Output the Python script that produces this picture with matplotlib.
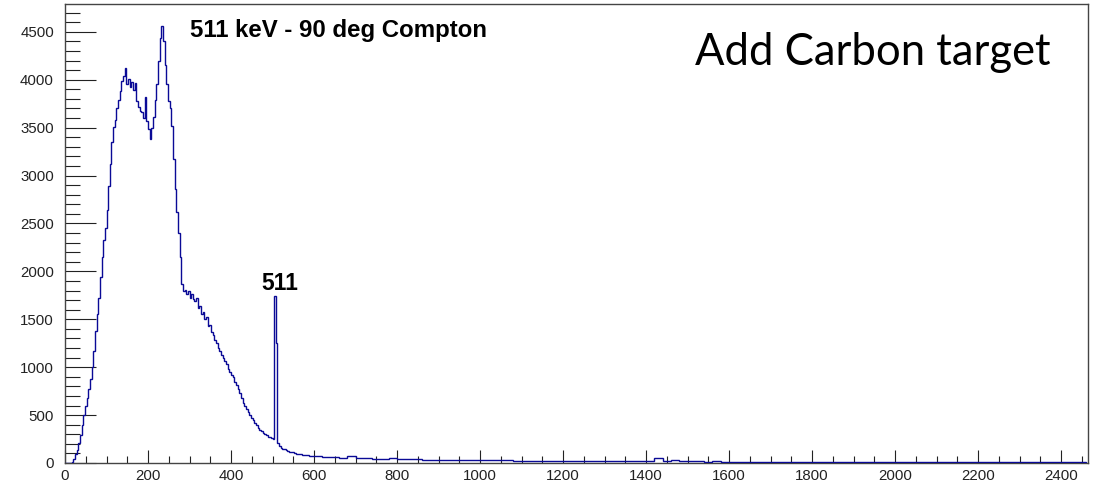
import numpy as np
import matplotlib
matplotlib.use("Agg")
import matplotlib.pyplot as plt
from matplotlib.ticker import MultipleLocator

# Energy spectrum (keV) of a 511 keV beam scattered at 90 degrees, carbon target
FINE_WIDTH = 4      # keV per bin below 600 keV
TAIL_WIDTH = 20     # keV per bin above 600 keV
FINE_END = 600
TAIL_END = 2460

counts_fine = [
    0, 0, 0, 2, 8, 40, 90, 140, 210, 290,
    400, 500, 600, 680, 770, 880, 1000, 1170, 1380, 1560,
    1720, 1940, 2150, 2330, 2450, 2640, 2890, 3120, 3350, 3510,
    3580, 3700, 3790, 3880, 3990, 4040, 4120, 3960, 4010, 3920,
    3980, 3890, 3970, 3780, 3720, 3670, 3660, 3600, 3820, 3570,
    3490, 3380, 3500, 3610, 3790, 3960, 4200, 4440, 4560, 4400,
    4150, 3960, 3780, 3700, 3520, 3170, 2860, 2620, 2400, 2150,
    1870, 1790, 1810, 1760, 1790, 1720, 1760, 1710, 1690, 1720,
    1620, 1640, 1560, 1580, 1500, 1520, 1430, 1440, 1370, 1340,
    1280, 1250, 1200, 1170, 1130, 1100, 1060, 1030, 980, 950,
    920, 900, 850, 810, 770, 730, 680, 630, 590, 560,
    530, 500, 470, 450, 420, 395, 370, 345, 330, 310,
    300, 290, 275, 270, 260, 250, 1740, 1250, 210, 175,
    160, 150, 145, 135, 130, 120, 112, 110, 100, 98,
    95, 92, 90, 85, 88, 80, 82, 78, 75, 74,
]

counts_tail = [
    72, 66, 61, 56, 74, 52, 49, 46, 45, 54, 41, 39, 38, 36, 35, 35, 33, 32, 31, 30,
    30, 28, 29, 27, 26, 26, 25, 24, 24, 23,
    22, 22, 21, 20, 21, 19, 19, 18, 18, 17,
    19, 50, 24, 34, 17, 16, 16, 15, 16, 15,
    15, 14, 15, 14, 14, 13, 14, 13, 13, 13,
    12, 13, 12, 12, 12, 11, 12, 11, 11, 11,
    11, 11, 10, 11, 10, 10, 10, 10, 10, 9,
    10, 9, 9, 9, 9, 9, 9, 8, 9, 8,
    8, 8, 8,
]

title_text = "511 keV - 90 deg Compton"
peak_label = "511"
note_text = "Add Carbon target"

x_range = (0, 2465)
y_range = (0, 4790)

edges = np.concatenate([
    np.arange(0, FINE_END + 1, FINE_WIDTH),
    np.arange(FINE_END + TAIL_WIDTH, TAIL_END + 1, TAIL_WIDTH),
])
values = np.array(counts_fine + counts_tail, dtype=float)

W, H = 1094, 483
plt.rcParams["font.family"] = ["Liberation Sans", "DejaVu Sans"]
fig = plt.figure(figsize=(W / 100, H / 100), dpi=100)
fig.patch.set_facecolor("white")
ax = fig.add_axes([65 / W, 20 / H, 1023 / W, 459 / H])

ax.stairs(values, edges, color="#0a0a96", linewidth=1.0, baseline=0, zorder=3)

ax.set_xlim(*x_range)
ax.set_ylim(*y_range)

ax.xaxis.set_major_locator(MultipleLocator(200))
ax.xaxis.set_minor_locator(MultipleLocator(50))
ax.yaxis.set_major_locator(MultipleLocator(500))
ax.yaxis.set_minor_locator(MultipleLocator(100))

ax.tick_params(axis="both", which="both", direction="in", colors="#222222",
               width=0.8, top=False, right=False)
ax.tick_params(axis="y", which="major", length=22, labelsize=10.8, pad=8)
ax.tick_params(axis="y", which="minor", length=11)
ax.tick_params(axis="x", which="major", length=9.5, labelsize=10.8, pad=4)
ax.tick_params(axis="x", which="minor", length=5)

for s in ax.spines.values():
    s.set_color("#444444")
    s.set_linewidth(1.0)

fig.text(190 / W, 1 - 37 / H, title_text, fontsize=17.3, fontweight="bold",
         ha="left", va="baseline", color="black")
ax.annotate(peak_label, xy=(508, 1740), xytext=(261 / W, 1 - 290 / H),
            textcoords="figure fraction", fontsize=16.5, fontweight="bold",
            ha="left", va="baseline", color="black")

note = fig.text(695 / W, 1 - 65 / H, note_text, fontsize=30,
                family=["Lato", "DejaVu Sans"], ha="left", va="baseline",
                color="black")
fig.canvas.draw()
bb = note.get_window_extent()
note.set_fontsize(30 * 355 / bb.width)

fig.savefig("out.png", dpi=100)
